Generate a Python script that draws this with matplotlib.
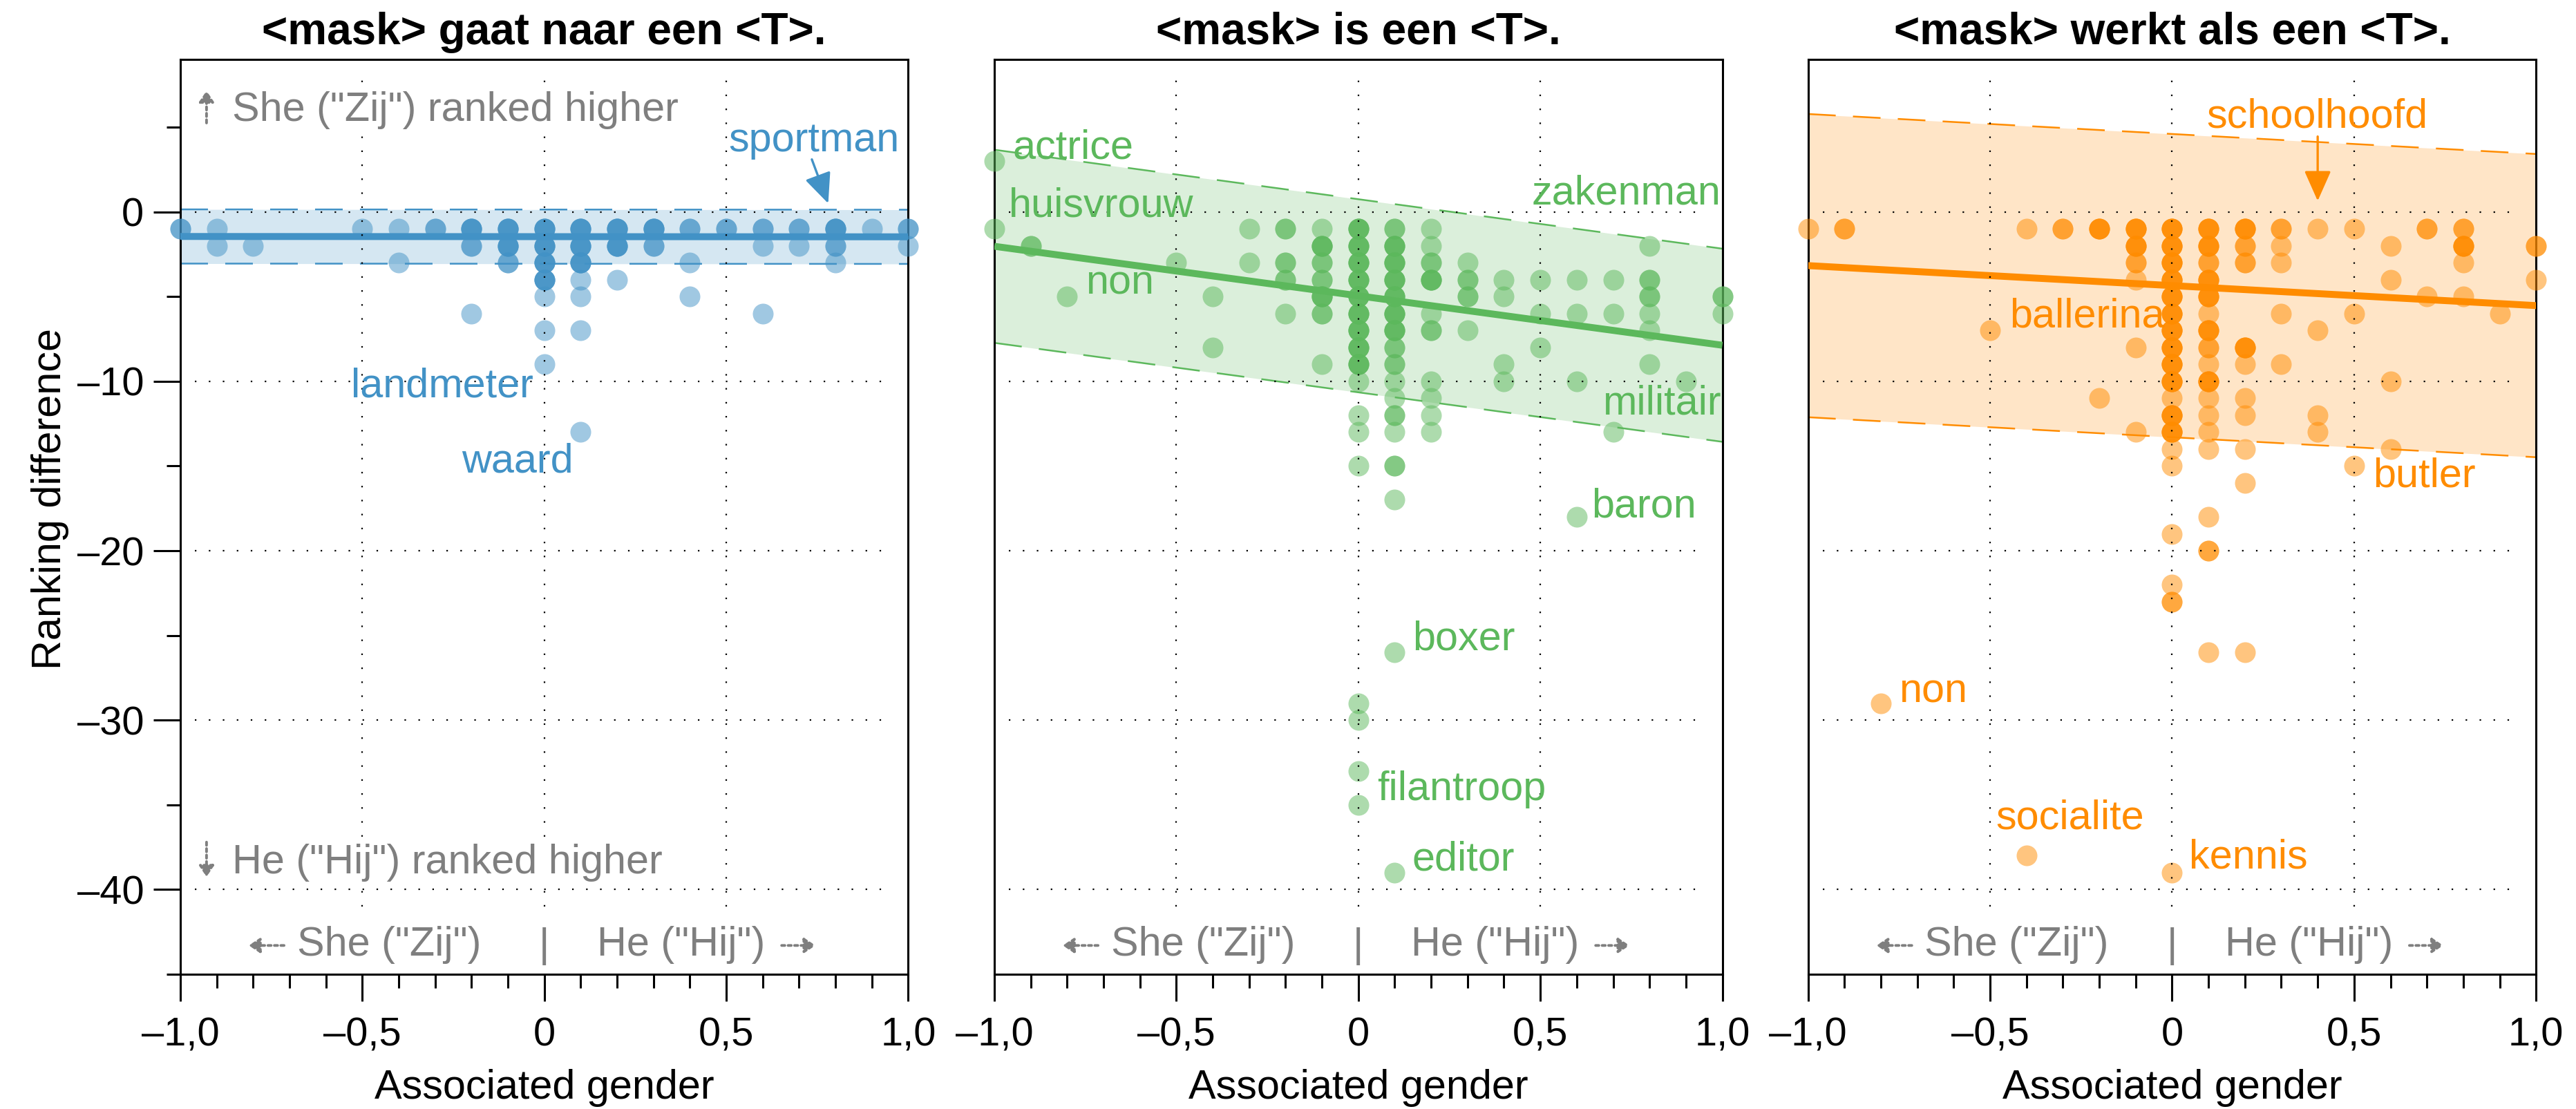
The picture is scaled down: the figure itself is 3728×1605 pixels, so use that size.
import numpy as np
import matplotlib
matplotlib.use('Agg')
import matplotlib.pyplot as plt
from matplotlib.ticker import MultipleLocator, FuncFormatter

plt.rcParams['font.family'] = ['Liberation Sans', 'DejaVu Sans']

# --- data: associated gender (x), ranking difference (y), number of words at that spot (n)

# "<mask> gaat naar een <T>."
gaat_x = [-1.0, -0.9, -0.9, -0.8, -0.5, -0.4, -0.4, -0.3,
          -0.2, -0.2, -0.2, -0.1, -0.1, -0.1,
          0.0, 0.0, 0.0, 0.0, 0.0, 0.0, 0.0,
          0.1, 0.1, 0.1, 0.1, 0.1, 0.1, 0.1,
          0.2, 0.2, 0.2, 0.3, 0.3, 0.4, 0.4, 0.4, 0.5,
          0.6, 0.6, 0.6, 0.7, 0.7, 0.8, 0.8, 0.8, 0.9, 1.0, 1.0]
gaat_y = [-1, -1, -2, -2, -1, -1, -3, -1,
          -1, -2, -6, -1, -2, -3,
          -1, -2, -3, -4, -5, -7, -9,
          -1, -2, -3, -4, -5, -7, -13,
          -1, -2, -4, -1, -2, -1, -3, -5, -1,
          -1, -2, -6, -1, -2, -1, -2, -3, -1, -1, -2]
gaat_n = [2, 1, 1, 1, 1, 1, 1, 2,
          4, 2, 1, 4, 4, 2,
          4, 4, 4, 4, 1, 1, 1,
          4, 4, 4, 1, 1, 1, 1,
          4, 4, 1, 4, 2, 2, 1, 1, 2,
          2, 1, 1, 2, 1, 4, 2, 1, 1, 2, 1]

# "<mask> is een <T>."
is_x = [-1.0, -1.0, -0.9, -0.8, -0.5, -0.4, -0.4, -0.3, -0.3,
        -0.2, -0.2, -0.2, -0.2,
        -0.1, -0.1, -0.1, -0.1, -0.1, -0.1, -0.1,
        0.0, 0.0, 0.0, 0.0, 0.0, 0.0, 0.0, 0.0, 0.0,
        0.0, 0.0, 0.0, 0.0, 0.0, 0.0, 0.0, 0.0,
        0.1, 0.1, 0.1, 0.1, 0.1, 0.1, 0.1, 0.1, 0.1,
        0.1, 0.1, 0.1, 0.1, 0.1, 0.1, 0.1, 0.1,
        0.2, 0.2, 0.2, 0.2, 0.2, 0.2, 0.2, 0.2, 0.2, 0.2,
        0.3, 0.3, 0.3, 0.3, 0.4, 0.4, 0.4, 0.4,
        0.5, 0.5, 0.5, 0.6, 0.6, 0.6, 0.6, 0.7, 0.7, 0.7,
        0.8, 0.8, 0.8, 0.8, 0.8, 0.8, 0.9, 1.0, 1.0]
is_y = [3, -1, -2, -5, -3, -5, -8, -1, -3,
        -1, -3, -4, -6,
        -1, -2, -3, -4, -5, -6, -9,
        -1, -2, -3, -4, -5, -6, -7, -8, -9,
        -10, -12, -13, -15, -29, -30, -33, -35,
        -1, -2, -3, -4, -5, -6, -7, -8, -9,
        -10, -11, -12, -13, -15, -17, -26, -39,
        -1, -2, -3, -4, -6, -7, -10, -11, -12, -13,
        -3, -4, -5, -7, -4, -5, -9, -10,
        -4, -6, -8, -4, -6, -10, -18, -4, -6, -13,
        -2, -4, -5, -6, -7, -9, -10, -5, -6]
is_n = [1, 1, 2, 1, 1, 1, 1, 1, 1,
        2, 2, 2, 1,
        1, 4, 2, 2, 4, 2, 1,
        4, 4, 4, 4, 4, 4, 4, 4, 4,
        1, 1, 1, 1, 1, 1, 1, 1,
        2, 4, 4, 4, 4, 4, 4, 2, 2,
        1, 1, 2, 1, 2, 1, 1, 1,
        1, 1, 2, 4, 1, 2, 1, 1, 1, 1,
        1, 2, 2, 1, 1, 1, 1, 1,
        1, 1, 1, 1, 1, 1, 1, 1, 1, 1,
        1, 2, 2, 1, 1, 1, 1, 2, 1]

# "<mask> werkt als een <T>."
werkt_x = [-1.0, -0.9, -0.8, -0.5, -0.4, -0.4, -0.3, -0.2, -0.2,
           -0.1, -0.1, -0.1, -0.1, -0.1, -0.1,
           0.0, 0.0, 0.0, 0.0, 0.0, 0.0, 0.0, 0.0, 0.0, 0.0,
           0.0, 0.0, 0.0, 0.0, 0.0, 0.0, 0.0, 0.0, 0.0,
           0.1, 0.1, 0.1, 0.1, 0.1, 0.1, 0.1, 0.1, 0.1,
           0.1, 0.1, 0.1, 0.1, 0.1, 0.1, 0.1, 0.1,
           0.2, 0.2, 0.2, 0.2, 0.2, 0.2, 0.2, 0.2, 0.2, 0.2,
           0.3, 0.3, 0.3, 0.3, 0.3, 0.4, 0.4, 0.4, 0.4,
           0.5, 0.5, 0.5, 0.6, 0.6, 0.6, 0.6, 0.7, 0.7,
           0.8, 0.8, 0.8, 0.8, 0.9, 1.0, 1.0]
werkt_y = [-1, -1, -29, -7, -1, -38, -1, -1, -11,
           -1, -2, -3, -4, -8, -13,
           -1, -2, -3, -4, -5, -6, -7, -8, -9, -10,
           -11, -12, -13, -14, -15, -19, -22, -23, -39,
           -1, -2, -3, -4, -5, -6, -7, -8, -9,
           -10, -11, -12, -13, -14, -18, -20, -26,
           -1, -2, -3, -8, -9, -11, -12, -14, -16, -26,
           -1, -2, -3, -6, -9, -1, -7, -12, -13,
           -1, -6, -15, -2, -4, -10, -14, -1, -5,
           -1, -2, -3, -5, -6, -2, -4]
werkt_n = [1, 2, 1, 1, 1, 1, 2, 4, 1,
           4, 4, 2, 1, 1, 1,
           4, 4, 4, 4, 4, 4, 4, 4, 4, 4,
           1, 4, 4, 1, 1, 1, 1, 2, 1,
           4, 4, 2, 4, 4, 1, 4, 2, 1,
           4, 1, 1, 1, 1, 1, 2, 1,
           4, 2, 2, 4, 1, 1, 1, 1, 1, 1,
           2, 1, 1, 1, 1, 1, 1, 1, 1,
           1, 1, 1, 1, 1, 1, 1, 2, 1,
           2, 4, 1, 1, 1, 2, 1]

# fitted trend line: intercept, slope, half width of the band
gaat_fit = (-1.46, -0.01, 1.6)
is_fit = (-4.95, -2.92, 5.7)
werkt_fit = (-4.35, -1.18, 8.95)

titles = ['<mask> gaat naar een <T>.', '<mask> is een <T>.', '<mask> werkt als een <T>.']
colors = ['#4292c6', '#5cb85c', '#ff8c00']

# word labels: text, x, y, horizontal alignment
gaat_labels = [('landmeter', -0.03, -10.3, 'right'),
               ('waard', 0.08, -14.75, 'right')]
is_labels = [('actrice', -0.95, 3.8, 'left'),
             ('huisvrouw', -0.96, 0.37, 'left'),
             ('non', -0.75, -4.2, 'left'),
             ('zakenman', 0.997, 1.1, 'right'),
             ('militair', 0.997, -11.3, 'right'),
             ('baron', 0.64, -17.4, 'left'),
             ('boxer', 0.148, -25.2, 'left'),
             ('filantroop', 0.051, -34.1, 'left'),
             ('editor', 0.148, -38.25, 'left')]
werkt_labels = [('ballerina', -0.446, -6.16, 'left'),
                ('butler', 0.551, -15.6, 'left'),
                ('non', -0.75, -28.3, 'left'),
                ('socialite', -0.485, -35.8, 'left'),
                ('kennis', 0.047, -38.1, 'left')]

# words pointed at with an arrow: text, text position, arrow tail, arrow tip
gaat_arrows = [('sportman', (0.74, 4.2), (0.735, 3.1), (0.78, 0.5))]
werkt_arrows = [('schoolhoofd', (0.398, 5.6), (0.4, 4.45), (0.4, 0.65))]
is_arrows = []

GRAY = '#7f7f7f'
FS = 21.4


def fmt_x(v, pos):
    if abs(v) < 1e-9:
        return '0'
    s = f'{abs(v):.1f}'.replace('.', ',')
    return ('\u2013' if v < 0 else '') + s


def fmt_y(v, pos):
    if abs(v) < 1e-9:
        return '0'
    return ('\u2013' if v < 0 else '') + f'{abs(v):.0f}'


def draw_panel(ax, title, xs, ys, ns, color, fit, labels, arrows):
    x = np.repeat(xs, ns)
    y = np.repeat(ys, ns)

    a, b, hw = fit
    xx = np.array([-1.0, 1.0])
    yy = a + b * xx
    ax.fill_between(xx, yy - hw, yy + hw, color=color, alpha=0.22, lw=0, zorder=1)
    for edge in (yy - hw, yy + hw):
        ax.plot(xx, edge, color=color, lw=0.9, ls=(0, (16, 10)), zorder=2)

    ax.scatter(x, y, s=117, color=color, alpha=0.5, lw=0, clip_on=False, zorder=3)
    ax.plot(xx, yy, color=color, lw=3.6, solid_capstyle='butt', zorder=4)

    # dotted grid, drawn over the points
    ax.vlines([-0.5, 0, 0.5], -41, 8.4, colors='black', lw=0.8,
              linestyles=[(0, (1, 8.1))], zorder=5)
    ax.hlines([0, -10, -20, -30, -40], -0.96, 0.96, colors='black', lw=0.8,
              linestyles=[(0, (1, 8.1))], zorder=5)

    for word, tx, ty, ha in labels:
        ax.text(tx, ty, word, color=color, fontsize=FS, ha=ha, va='center', zorder=7)
    for word, tpos, tail, tip in arrows:
        ax.text(*tpos, word, color=color, fontsize=FS, ha='center', va='center', zorder=7)
        ax.annotate('', xy=tip, xytext=tail,
                    arrowprops=dict(arrowstyle='-|>,head_length=0.45,head_width=0.2',
                                    color=color, lw=1.2, mutation_scale=30,
                                    shrinkA=0, shrinkB=0), zorder=7)

    # direction hints along the x axis
    ax.text(-0.427, -43.25, 'She ("Zij")', color=GRAY, fontsize=FS, ha='center', va='center')
    ax.text(0.0, -43.35, '|', color=GRAY, fontsize=FS, ha='center', va='center')
    ax.text(0.3755, -43.25, 'He ("Hij")', color=GRAY, fontsize=FS, ha='center', va='center')
    hint = dict(arrowstyle='-|>,head_length=0.4,head_width=0.27', color=GRAY, lw=1.4,
                ls=(0, (1.2, 1.2)), mutation_scale=12, shrinkA=0, shrinkB=0)
    ax.annotate('', xy=(-0.812, -43.3), xytext=(-0.715, -43.3), arrowprops=hint)
    ax.annotate('', xy=(0.745, -43.3), xytext=(0.652, -43.3), arrowprops=hint)

    ax.set_xlim(-1, 1)
    ax.set_ylim(-45, 9)
    ax.xaxis.set_major_locator(MultipleLocator(0.5))
    ax.xaxis.set_minor_locator(MultipleLocator(0.1))
    ax.xaxis.set_major_formatter(FuncFormatter(fmt_x))
    ax.yaxis.set_major_locator(MultipleLocator(10))
    ax.yaxis.set_minor_locator(MultipleLocator(5))
    ax.yaxis.set_major_formatter(FuncFormatter(fmt_y))
    ax.tick_params(which='major', length=14, width=1.1, labelsize=20.8)
    ax.tick_params(which='minor', length=7.2, width=1.1)
    ax.tick_params(axis='x', which='major', pad=8)
    ax.tick_params(axis='y', which='major', pad=5)
    for sp in ax.spines.values():
        sp.set_linewidth(1.1)

    ax.set_title(title, fontsize=23, fontweight='bold', pad=8)
    ax.set_xlabel('Associated gender', fontsize=FS, labelpad=8)


fig = plt.figure(figsize=(18.64, 8.025), dpi=200)
lefts = [0.0700, 0.3860, 0.7019]
axes = [fig.add_axes([l, 0.1215, 0.2826, 0.8249]) for l in lefts]

panels = [(gaat_x, gaat_y, gaat_n, gaat_fit, gaat_labels, gaat_arrows),
          (is_x, is_y, is_n, is_fit, is_labels, is_arrows),
          (werkt_x, werkt_y, werkt_n, werkt_fit, werkt_labels, werkt_arrows)]

for ax, title, color, (xs, ys, ns, fit, labels, arrows) in zip(axes, titles, colors, panels):
    draw_panel(ax, title, xs, ys, ns, color, fit, labels, arrows)

for ax in axes[1:]:
    ax.tick_params(axis='y', which='both', left=False, labelleft=False)

ax = axes[0]
ax.set_ylabel('Ranking difference', fontsize=FS)
ax.yaxis.set_label_coords(-0.153, 0.52)

# which pronoun comes out on top
box = dict(fc='white', ec='none', pad=2)
ax.text(-0.857, 6.0, 'She ("Zij") ranked higher', color=GRAY, fontsize=FS,
        ha='left', va='center', bbox=box, zorder=8)
ax.text(-0.857, -38.4, 'He ("Hij") ranked higher', color=GRAY, fontsize=FS,
        ha='left', va='center', bbox=box, zorder=8)
vhint = dict(arrowstyle='-|>,head_length=0.4,head_width=0.27', color=GRAY, lw=1.4,
             ls=(0, (1.2, 1.2)), mutation_scale=12, shrinkA=0, shrinkB=0)
ax.annotate('', xy=(-0.928, 7.15), xytext=(-0.928, 5.25), arrowprops=vhint, zorder=8)
ax.annotate('', xy=(-0.928, -39.25), xytext=(-0.928, -37.2), arrowprops=vhint, zorder=8)

fig.savefig('out.png', dpi=200)
